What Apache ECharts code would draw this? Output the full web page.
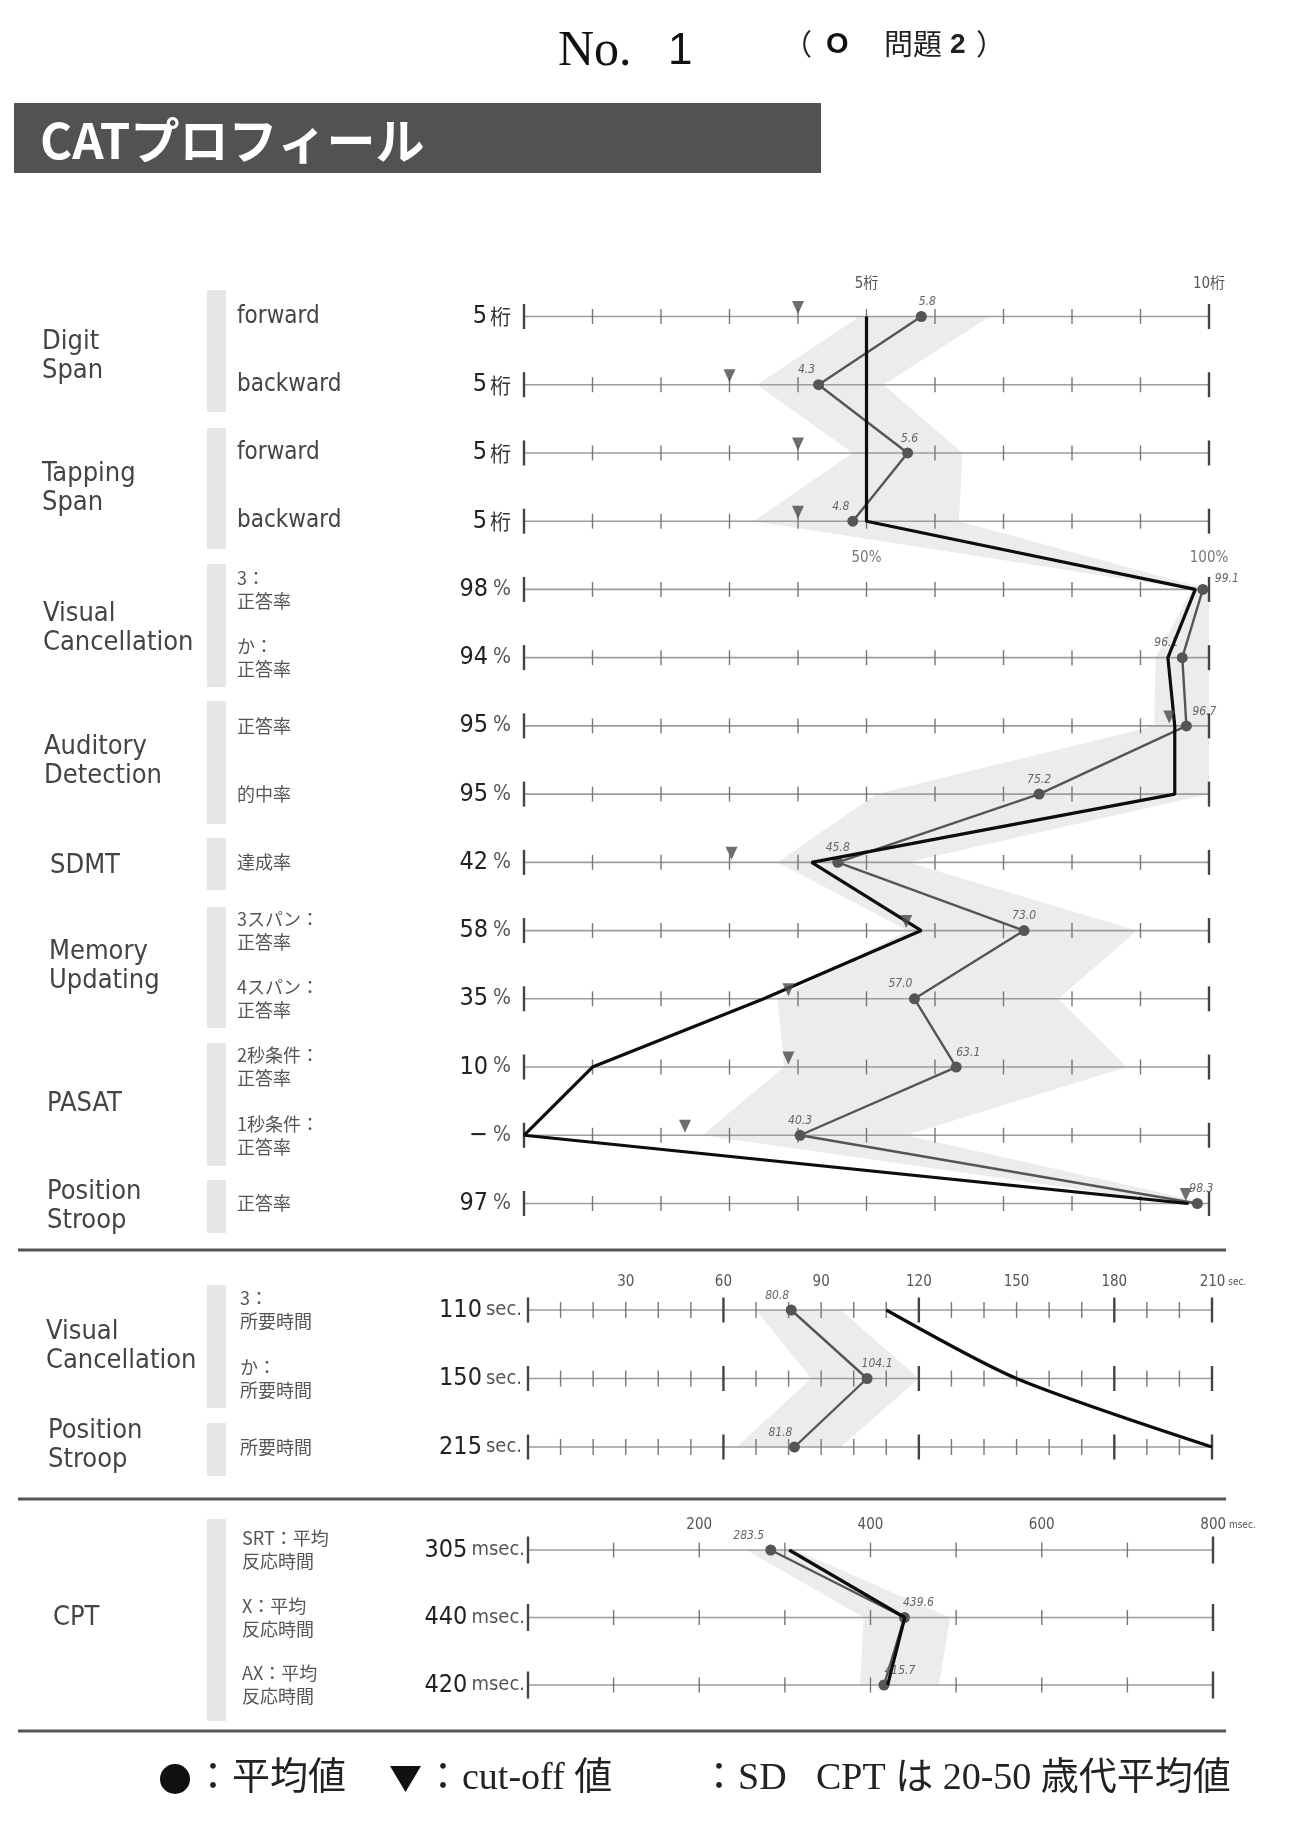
<!DOCTYPE html>
<html>
<head>
<meta charset="utf-8">
<script src="https://cdn.jsdelivr.net/npm/echarts@6/dist/echarts.min.js"></script>
<style>
  html, body { margin: 0; padding: 0; background: #fff; }
  #chart { width: 1290px; height: 1832px; }
</style>
</head>
<body>
<div id="chart"></div>
<script>
// ---------- data ----------
// section 1a: span tests (桁)
var spanSubLabels = ['forward', 'backward', 'forward', 'backward'];
var spanPatient = [5, 5, 5, 5];
var spanMean = [5.8, 4.3, 5.6, 4.8];
var spanCutoff = [4, 3, 4, 4];
var spanSdLow = [4.9, 3.4, 4.8, 3.35];
var spanSdHigh = [6.8, 5.25, 6.4, 6.35];
var spanTopTicks = [5, 10];
var spanTopLabels = ['5桁', '10桁'];

// section 1b: percent tests
var pctSubLabels = ['3：\n正答率', 'か：\n正答率', '正答率', '的中率', '達成率',
  '3スパン：\n正答率', '4スパン：\n正答率', '2秒条件：\n正答率', '1秒条件：\n正答率', '正答率'];
var pctPatientText = ['98', '94', '95', '95', '42', '58', '35', '10', '−', '97'];
var pctPatient = [98, 94, 95, 95, 42, 58, 35, 10, 0, 97];
var pctMean = [99.1, 96.1, 96.7, 75.2, 45.8, 73.0, 57.0, 63.1, 40.3, 98.3];
var pctCutoff = [null, null, 94.2, null, 30.3, 55.8, 38.6, 38.6, 23.5, 96.6];
var pctSdLow = [97.5, 92.2, 92, 51.5, 37, 56, 37, 38, 26, 95.5];
var pctSdHigh = [100, 100, 100, 100, 56, 89.5, 78, 88, 55.8, 100];
var pctTicks = [0, 10, 20, 30, 40, 50, 60, 70, 80, 90, 100];
var pctHeadTicks = [50, 100];
var pctHeadLabels = ['50%', '100%'];

// section 2: seconds
var secSubLabels = ['3：\n所要時間', 'か：\n所要時間', '所要時間'];
var secPatient = [110, 150, 215];
var secMean = [80.8, 104.1, 81.8];
var secSdLow = [70, 87, 64];
var secSdHigh = [96, 120, 96];
var secTicks = [0, 10, 20, 30, 40, 50, 60, 70, 80, 90, 100, 110, 120, 130, 140, 150, 160, 170, 180, 190, 200, 210];
var secMajor = [0, 60, 120, 180, 210];
var secTopTicks = [30, 60, 90, 120, 150, 180, 210];

// section 3: CPT msec
var cptSubLabels = ['SRT：平均\n反応時間', 'X：平均\n反応時間', 'AX：平均\n反応時間'];
var cptPatient = [305, 440, 420];
var cptMean = [283.5, 439.6, 415.7];
var cptSdLow = [255, 392, 388];
var cptSdHigh = [312, 493, 480];
var cptTicks = [0, 100, 200, 300, 400, 500, 600, 700, 800];
var cptTopTicks = [200, 400, 600, 800];

// ---------- helpers ----------
var SPAN_SCALE = 10; // 5桁 sits on the 50% mark of the shared axis
var COND = '"DejaVu Sans Condensed", "Liberation Sans Narrow", "Noto Sans CJK JP", sans-serif';
var JP = '"Noto Sans CJK JP", sans-serif';
var SERIF = '"Liberation Serif", "DejaVu Serif", "Noto Sans CJK JP", serif';

var s1Sub = spanSubLabels.concat(pctSubLabels);
var s1Mean = spanMean.map(function (v) { return v * SPAN_SCALE; }).concat(pctMean);
var s1Patient = spanPatient.map(function (v) { return v * SPAN_SCALE; }).concat(pctPatient);
var s1Cut = spanCutoff.map(function (v) { return v * SPAN_SCALE; }).concat(pctCutoff);
var s1Low = spanSdLow.map(function (v) { return v * SPAN_SCALE; }).concat(pctSdLow);
var s1High = spanSdHigh.map(function (v) { return v * SPAN_SCALE; }).concat(pctSdHigh);

function keys(n) { var a = []; for (var i = 0; i < n; i++) a.push('r' + i); return a; }
function rows(n) { var a = []; for (var i = 0; i < n; i++) a.push([0, i]); return a; }

function subLabel(txt) {
    return txt.split('\n').map(function (l) {
        return /^[\x00-\x7f]+$/.test(l) ? '{en|' + l + '}' : '{jp|' + l + '}';
    }).join('\n');
}
var subRich = {
    en: {fontSize: 24, fontFamily: COND, color: '#444'},
    jp: {fontSize: 18, fontFamily: JP, color: '#555', lineHeight: 23}
};
var valRich = {
    n: {fontSize: 25, fontFamily: COND, color: '#222'},
    u: {fontSize: 21, fontFamily: JP, color: '#333', padding: [0, 0, 0, 3]},
    p: {fontSize: 21, fontFamily: COND, color: '#555', padding: [0, 0, 0, 5]},
    s: {fontSize: 20, fontFamily: COND, color: '#555', padding: [0, 0, 0, 4]}
};

function axisRows(ticks, majors, minorLen, majorLen) {
    return function (params, api) {
        var row = api.value(1);
        var a = api.coord([ticks[0], row]);
        var b = api.coord([ticks[ticks.length - 1], row]);
        var kids = [{type: 'line', shape: {x1: a[0], y1: a[1], x2: b[0], y2: b[1]},
            style: {stroke: '#9d9d9d', lineWidth: 1.6}}];
        ticks.forEach(function (t) {
            var p = api.coord([t, row]);
            var big = majors.indexOf(t) >= 0;
            var h = big ? majorLen : minorLen;
            kids.push({type: 'line', shape: {x1: p[0], y1: p[1] - h, x2: p[0], y2: p[1] + h},
                style: {stroke: big ? '#444' : '#777', lineWidth: big ? 2.4 : 1.4}});
        });
        return {type: 'group', children: kids};
    };
}

function band(low, high) {
    return function (params, api) {
        var pts = [];
        low.forEach(function (v, i) { pts.push(api.coord([v, i])); });
        for (var i = high.length - 1; i >= 0; i--) pts.push(api.coord([high[i], i]));
        return {type: 'polygon', shape: {points: pts}, style: {fill: '#ececec'}};
    };
}

function meanSeries(xi, yi, vals, rowStart, shifts, texts) {
    return {
        type: 'line', xAxisIndex: xi, yAxisIndex: yi, z: 4,
        data: vals.map(function (v, i) {
            var s = shifts[i + rowStart] || [0, 0];
            return {value: [v, i + rowStart], label: {offset: s}};
        }),
        symbol: 'circle', symbolSize: 11,
        itemStyle: {color: '#555'},
        lineStyle: {color: '#555', width: 2.4},
        label: {
            show: true, position: 'top', distance: 3,
            fontSize: 12, fontStyle: 'italic', fontFamily: COND, color: '#666',
            formatter: function (p) { return texts[p.dataIndex].toFixed(1); }
        },
        silent: true
    };
}

function patientSeries(xi, yi, vals, smooth) {
    return {
        type: 'line', xAxisIndex: xi, yAxisIndex: yi, z: 5,
        data: vals.map(function (v, i) { return [v, i]; }),
        symbol: 'none', smooth: smooth || false,
        lineStyle: {color: '#0d0d0d', width: 3.2},
        silent: true
    };
}

var s1Shift = {0: [6, 0], 1: [-12, 0], 2: [2, 0], 3: [-12, 0], 4: [24, 4], 5: [-16, 0],
    6: [18, 0], 10: [-14, 0], 11: [12, 0], 13: [4, 0]};
var secShift = {0: [-14, 0], 1: [10, 0], 2: [-14, 0]};
var cptShift = {0: [-22, 0], 1: [14, 0], 2: [16, 0]};

function topAxis(grid, max, interval, fmt, margin) {
    return {
        gridIndex: grid, type: 'value', position: 'top', min: 0, max: max, interval: interval,
        axisLine: {show: false}, axisTick: {show: false}, splitLine: {show: false},
        axisLabel: {
            margin: margin, fontSize: 15, fontFamily: COND, color: '#555', formatter: fmt,
            rich: {a: {fontSize: 15, fontFamily: COND, color: '#555'},
                b: {fontSize: 10, fontFamily: COND, color: '#555'},
                pad: {width: 22}, padm: {width: 30}}
        }
    };
}

function catAxis(grid, n, fmt, align, margin, rich) {
    return {
        gridIndex: grid, type: 'category', data: keys(n), inverse: true, boundaryGap: false,
        position: 'left', offset: 0,
        axisLine: {show: false}, axisTick: {show: false}, splitLine: {show: false},
        axisLabel: {interval: 0, align: align, margin: margin, formatter: fmt, rich: rich}
    };
}

// ---------- static decoration ----------
var groups = [
    ['Digit\nSpan', 42, 356], ['Tapping\nSpan', 42, 488], ['Visual\nCancellation', 43, 628],
    ['Auditory\nDetection', 44, 761], ['SDMT', 50, 866], ['Memory\nUpdating', 49, 966],
    ['PASAT', 47, 1104], ['Position\nStroop', 47, 1206], ['Visual\nCancellation', 46, 1346],
    ['Position\nStroop', 48, 1445], ['CPT', 53, 1618]
];
var bars = [[290, 412], [428, 549], [564, 687], [701, 824], [838, 890], [907, 1028],
    [1043, 1166], [1180, 1233], [1285, 1408], [1423, 1476], [1519, 1721]];

var hdrJP = {fontSize: 29, fontFamily: JP, fill: '#222', verticalAlign: 'middle'};
var elements = [
    {type: 'text', x: 558, y: 52, style: {text: 'No.', font: '50px "Liberation Serif", serif', fill: '#111', verticalAlign: 'middle'}},
    {type: 'text', x: 668, y: 52, style: {text: '1', font: '44px "Liberation Sans", sans-serif', fill: '#111', verticalAlign: 'middle'}},
    {type: 'text', x: 783, y: 44, style: Object.assign({text: '（'}, hdrJP)},
    {type: 'text', x: 826, y: 45, style: {text: 'O', font: 'bold 29px "Liberation Sans", sans-serif', fill: '#111', verticalAlign: 'middle'}},
    {type: 'text', x: 884, y: 44, style: Object.assign({text: '問題'}, hdrJP)},
    {type: 'text', x: 950, y: 45, style: {text: '2', font: 'bold 28px "Liberation Sans", sans-serif', fill: '#222', verticalAlign: 'middle'}},
    {type: 'text', x: 976, y: 44, style: Object.assign({text: '）'}, hdrJP)},
    {type: 'rect', shape: {x: 14, y: 103, width: 807, height: 70}, style: {fill: '#525252'}},
    {type: 'text', x: 40, y: 140, style: {text: 'CATプロフィール', font: 'bold 49px "Noto Sans CJK JP", sans-serif', fill: '#fff', verticalAlign: 'middle'}}
];
bars.forEach(function (b) {
    elements.push({type: 'rect', shape: {x: 207, y: b[0], width: 19, height: b[1] - b[0]}, style: {fill: '#e6e6e6'}});
});
groups.forEach(function (g) {
    elements.push({type: 'text', x: g[1], y: g[2], style: {text: g[0], fontSize: 27, fontFamily: COND,
        fill: '#444', lineHeight: 29, verticalAlign: 'middle'}});
});
[1250, 1499, 1731].forEach(function (y) {
    elements.push({type: 'line', shape: {x1: 18, y1: y, x2: 1226, y2: y}, style: {stroke: '#555', lineWidth: 3}});
});
// legend row
elements.push({type: 'circle', shape: {cx: 175, cy: 1779, r: 15}, style: {fill: '#111'}});
elements.push({type: 'text', x: 194, y: 1779, style: {text: '：平均値', font: '38px ' + SERIF, fill: '#222', verticalAlign: 'middle'}});
elements.push({type: 'polygon', shape: {points: [[390, 1766], [421, 1766], [405.5, 1792]]}, style: {fill: '#111'}});
elements.push({type: 'text', x: 424, y: 1779, style: {text: '：cut-off 値', font: '38px ' + SERIF, fill: '#222', verticalAlign: 'middle'}});
elements.push({type: 'text', x: 700, y: 1779, style: {text: '：SD', font: '38px ' + SERIF, fill: '#222', verticalAlign: 'middle'}});
elements.push({type: 'text', x: 816, y: 1779, style: {text: 'CPT は 20-50 歳代平均値', font: '38px ' + SERIF, fill: '#222', verticalAlign: 'middle'}});

// ---------- option ----------
var option = {
    animation: false,
    backgroundColor: '#fff',
    grid: [
        {left: 524, top: 316.5, width: 685, height: 887, containLabel: false, outerBoundsMode: 'none'},
        {left: 528, top: 1310, width: 684, height: 137, containLabel: false, outerBoundsMode: 'none'},
        {left: 528, top: 1550, width: 685, height: 135, containLabel: false, outerBoundsMode: 'none'}
    ],
    xAxis: [
        topAxis(0, 100, 50, function (v) {
            var k = spanTopTicks.indexOf(v / SPAN_SCALE);
            return k < 0 ? '' : spanTopLabels[k];
        }, 25),
        topAxis(1, 210, 30, function (v) {
            if (secTopTicks.indexOf(v) < 0) return '';
            return v === 210 ? '{pad|}{a|' + v + '}{b| sec.}' : '{a|' + v + '}';
        }, 20),
        topAxis(2, 800, 200, function (v) {
            if (cptTopTicks.indexOf(v) < 0) return '';
            return v === 800 ? '{padm|}{a|' + v + '}{b| msec.}' : '{a|' + v + '}';
        }, 17)
    ],
    yAxis: [
        catAxis(0, 14, function (v, i) { return subLabel(s1Sub[i]); }, 'left', 287, subRich),
        catAxis(0, 14, function (v, i) {
            return i < 4 ? '{n|' + spanPatient[i] + '}{u|桁}' : '{n|' + pctPatientText[i - 4] + '}{p|%}';
        }, 'right', 13, valRich),
        catAxis(1, 3, function (v, i) { return subLabel(secSubLabels[i]); }, 'left', 288, subRich),
        catAxis(1, 3, function (v, i) { return '{n|' + secPatient[i] + '}{s|sec.}'; }, 'right', 6, valRich),
        catAxis(2, 3, function (v, i) { return subLabel(cptSubLabels[i]); }, 'left', 286, subRich),
        catAxis(2, 3, function (v, i) { return '{n|' + cptPatient[i] + '}{s|msec.}'; }, 'right', 3, valRich)
    ],
    series: [
        // section 1
        {type: 'custom', xAxisIndex: 0, yAxisIndex: 0, z: 1, silent: true, data: [[0, 0]], renderItem: band(s1Low, s1High)},
        {type: 'custom', xAxisIndex: 0, yAxisIndex: 0, z: 2, silent: true, data: rows(14),
            renderItem: axisRows(pctTicks, [0, 100], 7.5, 12.5)},
        {type: 'scatter', xAxisIndex: 0, yAxisIndex: 0, z: 3, silent: true, symbolSize: 0,
            data: pctHeadTicks.map(function (v) { return [v, 4]; }),
            label: {show: true, offset: [0, -31], position: 'inside', fontSize: 15, fontFamily: COND, color: '#555',
                formatter: function (p) { return pctHeadLabels[p.dataIndex]; }}},
        meanSeries(0, 0, s1Mean.slice(0, 4), 0, s1Shift, spanMean),
        meanSeries(0, 0, s1Mean.slice(4), 4, s1Shift, pctMean),
        patientSeries(0, 0, s1Patient),
        {type: 'scatter', xAxisIndex: 0, yAxisIndex: 0, z: 6, silent: true,
            data: s1Cut.map(function (v, i) { return v == null ? null : [v, i]; }).filter(Boolean),
            symbol: 'triangle', symbolRotate: 180, symbolSize: [12, 13], symbolOffset: [0, -9],
            itemStyle: {color: '#4a4a4a'}},
        // section 2
        {type: 'custom', xAxisIndex: 1, yAxisIndex: 2, z: 1, silent: true, data: [[0, 0]], renderItem: band(secSdLow, secSdHigh)},
        {type: 'custom', xAxisIndex: 1, yAxisIndex: 2, z: 2, silent: true, data: rows(3),
            renderItem: axisRows(secTicks, secMajor, 8, 12.5)},
        meanSeries(1, 2, secMean, 0, secShift, secMean),
        patientSeries(1, 2, secPatient.map(function (v) { return Math.min(v, 210); }), 0.25),
        // section 3
        {type: 'custom', xAxisIndex: 2, yAxisIndex: 4, z: 1, silent: true, data: [[0, 0]], renderItem: band(cptSdLow, cptSdHigh)},
        {type: 'custom', xAxisIndex: 2, yAxisIndex: 4, z: 2, silent: true, data: rows(3),
            renderItem: axisRows(cptTicks, [0, 800], 7.5, 13.5)},
        meanSeries(2, 4, cptMean, 0, cptShift, cptMean),
        patientSeries(2, 4, cptPatient)
    ],
    graphic: {elements: elements}
};

var chart = echarts.init(document.getElementById('chart'));
chart.setOption(option);
</script>
</body>
</html>
